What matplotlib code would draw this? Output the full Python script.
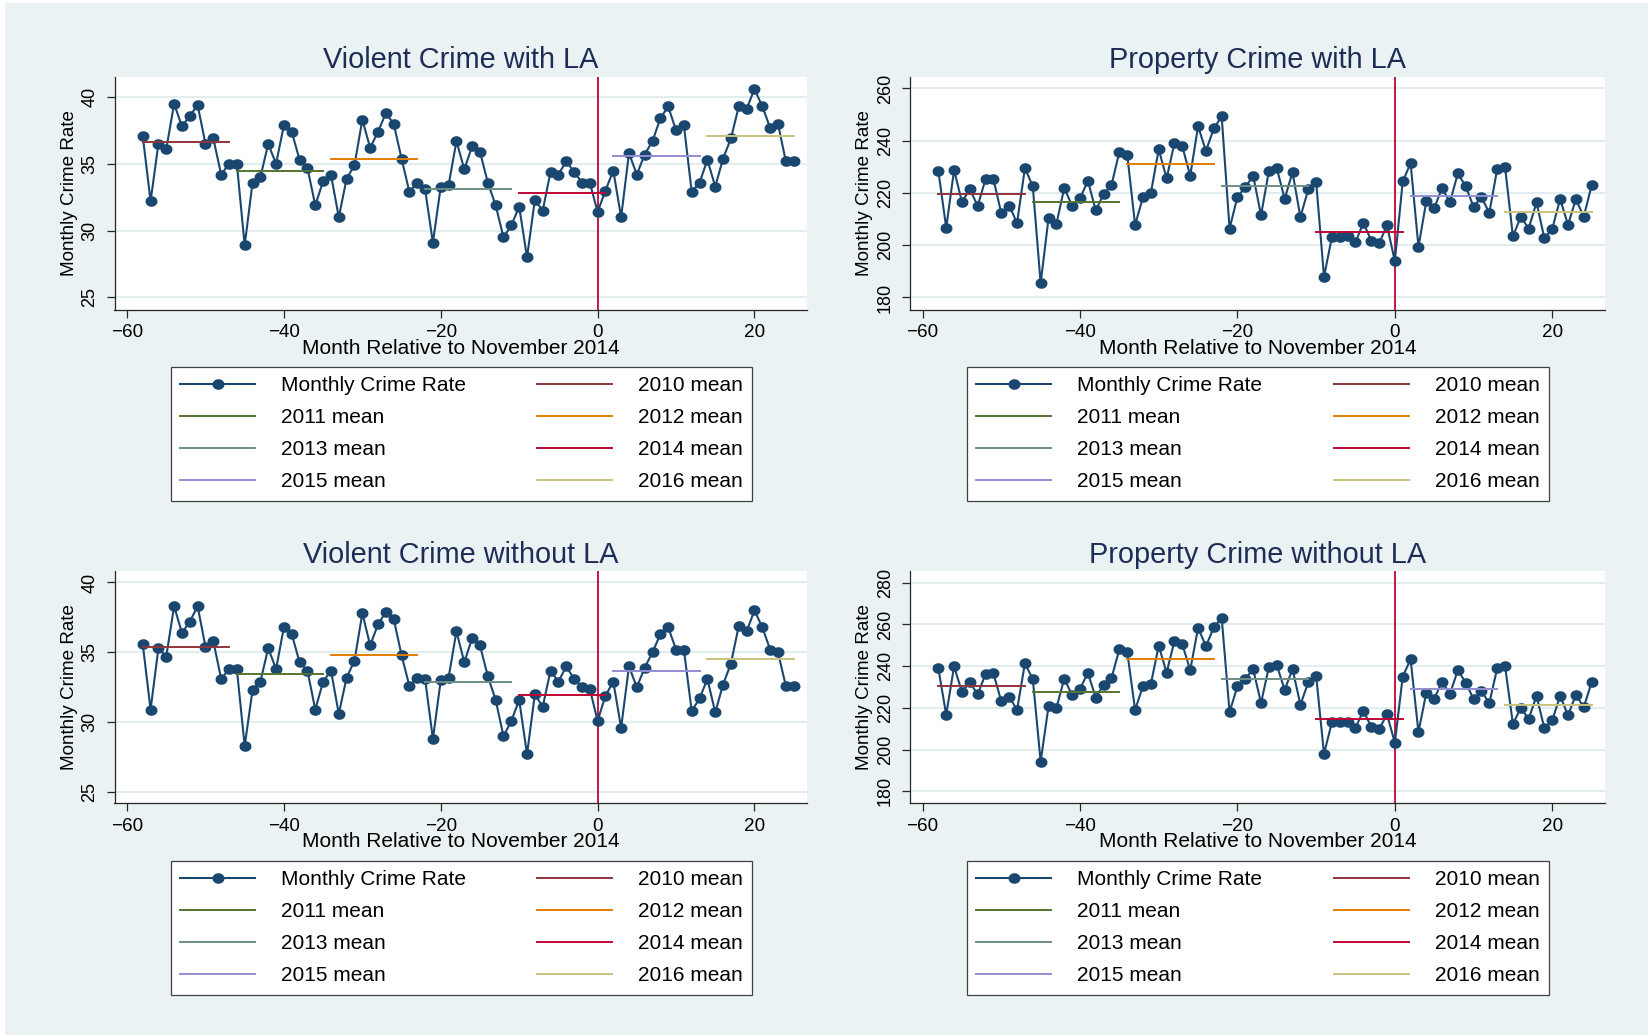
import numpy as np
import matplotlib
matplotlib.use("Agg")
import matplotlib.pyplot as plt
from matplotlib.path import Path
from matplotlib.patches import Rectangle

plt.rcParams['font.family'] = ['Liberation Sans', 'DejaVu Sans']

# ---- data -------------------------------------------------------------
months = list(range(-58, 26))   # month relative to November 2014

violent_la = [37.1, 32.2, 36.5, 36.1, 39.5, 37.8, 38.6, 39.4, 36.5, 36.9, 34.2, 35.0,
              35.0, 28.9, 33.6, 34.0, 36.5, 35.0, 37.9, 37.4, 35.3, 34.7, 31.9, 33.7,
              34.2, 31.0, 33.9, 34.9, 38.3, 36.2, 37.4, 38.8, 38.0, 35.4, 32.9, 33.6,
              33.1, 29.1, 33.3, 33.4, 36.7, 34.6, 36.3, 35.9, 33.6, 31.9, 29.5, 30.4,
              31.8, 28.0, 32.3, 31.5, 34.4, 34.2, 35.2, 34.4, 33.6, 33.6, 31.4, 33.0,
              34.5, 31.0, 35.8, 34.2, 35.7, 36.7, 38.4, 39.3, 37.5, 37.9, 32.9, 33.6,
              35.3, 33.3, 35.4, 36.9, 39.3, 39.1, 40.6, 39.3, 37.7, 38.0, 35.2, 35.2]

property_la = [228.5, 206.7, 228.8, 216.6, 221.4, 215.1, 225.3, 225.3, 212.2, 215.2, 208.5, 229.5,
               222.6, 185.4, 210.4, 208.1, 222.0, 215.0, 217.9, 224.7, 213.3, 219.6, 223.0, 235.8,
               234.6, 207.8, 218.4, 220.0, 236.7, 225.6, 239.1, 237.8, 226.6, 245.5, 236.1, 244.7,
               249.3, 206.4, 218.5, 222.2, 226.6, 211.5, 228.5, 229.5, 217.8, 227.9, 210.8, 221.4,
               224.3, 187.9, 203.1, 203.2, 203.6, 201.1, 208.6, 201.8, 200.7, 207.6, 193.9, 224.4,
               231.4, 199.4, 216.9, 214.2, 221.9, 216.4, 227.5, 222.6, 214.7, 218.4, 212.4, 229.1,
               230.0, 203.4, 210.9, 206.4, 216.4, 202.6, 206.3, 217.7, 207.8, 217.7, 210.9, 222.9]

violent_nola = [35.6, 30.9, 35.3, 34.7, 38.3, 36.4, 37.2, 38.3, 35.4, 35.8, 33.1, 33.8,
                33.8, 28.3, 32.3, 32.9, 35.3, 33.8, 36.8, 36.3, 34.3, 33.7, 30.9, 32.9,
                33.7, 30.6, 33.2, 34.4, 37.8, 35.5, 37.0, 37.9, 37.4, 34.8, 32.6, 33.2,
                33.1, 28.8, 33.0, 33.2, 36.5, 34.3, 36.0, 35.5, 33.3, 31.6, 29.0, 30.1,
                31.6, 27.7, 32.0, 31.1, 33.7, 32.9, 34.0, 33.1, 32.5, 32.4, 30.1, 31.9,
                32.9, 29.6, 34.0, 32.5, 33.9, 35.0, 36.3, 36.8, 35.2, 35.2, 30.8, 31.7,
                33.1, 30.7, 32.7, 34.2, 36.9, 36.5, 38.0, 36.8, 35.2, 35.0, 32.6, 32.6]

property_nola = [238.9, 216.7, 239.9, 227.6, 232.2, 226.5, 236.2, 236.5, 223.1, 225.4, 219.0, 241.3,
                 233.8, 194.2, 220.7, 219.9, 234.0, 226.0, 229.2, 236.7, 224.9, 231.1, 234.2, 248.2,
                 246.8, 219.0, 230.5, 231.4, 249.8, 236.9, 252.1, 250.4, 238.1, 258.3, 249.6, 258.6,
                 263.2, 218.0, 230.3, 234.0, 238.5, 222.3, 239.7, 240.5, 228.6, 238.6, 221.5, 232.2,
                 235.4, 197.9, 213.1, 213.4, 213.1, 210.5, 218.5, 211.0, 209.7, 216.9, 203.2, 235.0,
                 243.3, 208.4, 227.3, 224.4, 232.6, 226.6, 238.1, 232.1, 224.2, 227.9, 222.3, 238.9,
                 240.1, 212.3, 219.9, 214.7, 225.7, 210.2, 214.0, 225.8, 216.4, 226.3, 220.3, 232.2]

years = ['2010', '2011', '2012', '2013', '2014', '2015', '2016']
year_first_month = [-58, -46, -34, -22, -10, 2, 14]   # January of each year

titles = ['Violent Crime with LA', 'Property Crime with LA',
          'Violent Crime without LA', 'Property Crime without LA']
series = [violent_la, property_la, violent_nola, property_nola]
y_ticks = [[25, 30, 35, 40], [180, 200, 220, 240, 260],
           [25, 30, 35, 40], [180, 200, 220, 240, 260, 280]]
x_ticks = [-60, -40, -20, 0, 20]

# ---- style ------------------------------------------------------------
W, H = 1648, 1035
BG = '#EAF2F3'
NAVY = '#1A476F'
TITLE_C = '#1E2D55'
YEAR_COLORS = ['#90353B', '#55752F', '#E37E00', '#6E8E84',
               '#C10534', '#938DD2', '#CAC27E']
XLINE_C = '#C10534'
GRID_C = '#E3ECEF'
AX_C = '#262626'

y_limits = [(24.1, 41.5), (175.4, 264.4), (24.2, 40.8), (174.2, 285.5)]
x_limits = (-61.6, 26.7)

# plot regions in pixels: left, top, right, bottom
regions = [(114.5, 77, 807, 309.5), (910, 77, 1605, 309.5),
           (114.5, 571.3, 807, 803.3), (910, 571.3, 1605, 803.3)]
# legend boxes in pixels: left, top, right, bottom
legend_boxes = [(171, 367, 752, 496), (967, 367, 1549, 496),
                (171, 861, 752, 991), (967, 861, 1549, 991)]

# slightly wide elliptical dot
theta = np.linspace(0, 2 * np.pi, 48)
dot = Path(np.column_stack([1.15 * np.cos(theta), np.sin(theta)]), closed=True)

fig = plt.figure(figsize=(W / 100, H / 100), dpi=100, facecolor='white')
fig.add_artist(Rectangle((5 / W, 0), 1, 1 - 3 / H, transform=fig.transFigure,
                         facecolor=BG, edgecolor='none', zorder=-10))

for i in range(4):
    l, t, r, b = regions[i]
    ax = fig.add_axes([l / W, 1 - b / H, (r - l) / W, (b - t) / H])
    ax.set_facecolor('white')
    vals = series[i]

    ax.axvline(0, color=XLINE_C, lw=1.3, zorder=2)
    rate_line, = ax.plot(months, vals, color=NAVY, lw=1.5, marker=dot,
                         markersize=7.6, markerfacecolor=NAVY,
                         markeredgecolor=NAVY, zorder=3)

    mean_handles = []
    for k, yr in enumerate(years):
        m0 = year_first_month[k]
        idx = [j for j, m in enumerate(months) if m0 <= m <= m0 + 11]
        mean_val = float(np.mean([vals[j] for j in idx]))
        h, = ax.plot([m0, m0 + 11], [mean_val, mean_val],
                     color=YEAR_COLORS[k], lw=1.4, zorder=4)
        mean_handles.append(h)

    ax.set_xlim(*x_limits)
    ax.set_ylim(*y_limits[i])
    ax.set_xticks(x_ticks)
    ax.set_yticks(y_ticks[i])
    ax.yaxis.grid(True, color=GRID_C, lw=1.5)
    ax.set_axisbelow(True)
    for side in ('top', 'right'):
        ax.spines[side].set_visible(False)
    for side in ('left', 'bottom'):
        ax.spines[side].set_color(AX_C)
        ax.spines[side].set_linewidth(0.9)
    ax.tick_params(axis='both', direction='out', length=6, width=0.9,
                   color=AX_C, labelcolor='black')
    ax.tick_params(axis='x', labelsize=13.6, pad=4.3)
    ax.tick_params(axis='y', labelsize=13, pad=5.5)
    for lab in ax.get_yticklabels():
        lab.set_rotation(90)
        lab.set_va('center')

    ax.set_title(titles[i], fontsize=20.8, color=TITLE_C, pad=6.3)
    ax.set_xlabel('Month Relative to November 2014', fontsize=15)
    ax.set_ylabel('Monthly Crime Rate', fontsize=13.6)
    ax.xaxis.set_label_coords(0.5, -0.125)
    ax.yaxis.set_label_coords(-0.053, 0.5)

    # legend: row-wise reading order, so feed it column by column
    labels = ['Monthly Crime Rate'] + [y + ' mean' for y in years]
    handles = [rate_line] + mean_handles
    order = [0, 2, 4, 6, 1, 3, 5, 7]
    bl, bt, br, bb = legend_boxes[i]
    leg = ax.legend([handles[o] for o in order], [labels[o] for o in order],
                    ncol=2, loc='upper left', mode='expand',
                    bbox_to_anchor=(bl / W, 1 - bb / H, (br - bl) / W, (bb - bt) / H),
                    bbox_transform=fig.transFigure, borderaxespad=0,
                    fontsize=15, numpoints=1, handlelength=3.6,
                    handletextpad=1.22, labelspacing=0.62, borderpad=0.45,
                    frameon=True, fancybox=False, framealpha=1,
                    facecolor='white', edgecolor='#404040')
    leg.get_frame().set_linewidth(0.9)

fig.savefig('out.png', dpi=100, facecolor=fig.get_facecolor())
